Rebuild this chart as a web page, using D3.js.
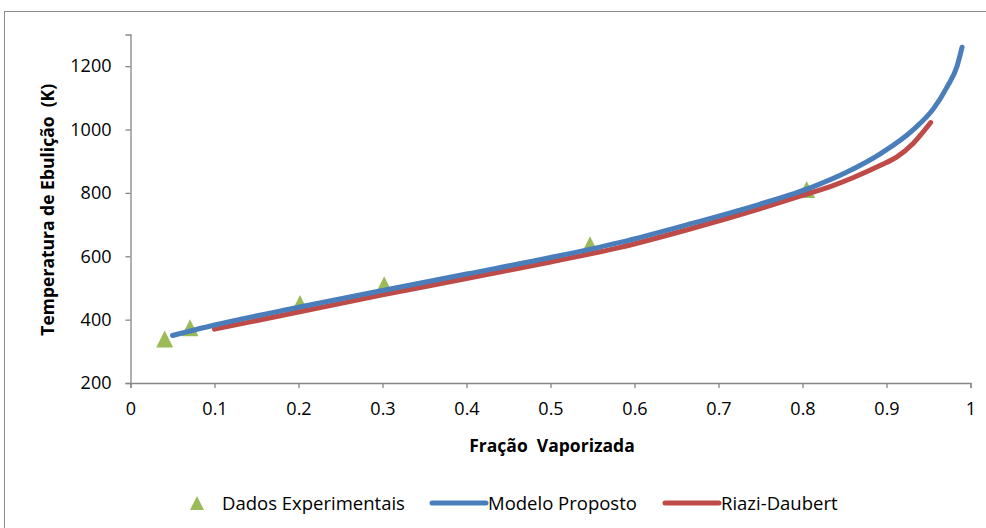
<!DOCTYPE html>
<html>
<head>
<meta charset="utf-8">
<script src="https://cdn.jsdelivr.net/npm/d3@7"></script>
<style>
  html, body { margin: 0; padding: 0; background: #fff; }
  svg { display: block; font-family: "Open Sans", "Liberation Sans", sans-serif; }
  text { white-space: pre; }
</style>
</head>
<body>
<svg id="chart" width="986" height="528"></svg>
<script>
// Experimental boiling temperatures (K) against vaporized fraction
const expFraction = [0.0407, 0.0708, 0.2018, 0.302, 0.547, 0.805];
const expTemp     = [339, 374, 451, 510, 636, 811];

// Proposed model curve
const modelFraction = [0.05, 0.10, 0.20, 0.30, 0.40, 0.50, 0.583, 0.666, 0.749, 0.813, 0.853, 0.8935, 0.932, 0.956, 0.972, 0.984, 0.99];
const modelTemp     = [350, 383, 439, 492, 544, 596, 644, 702, 764, 820, 866, 925, 1000, 1066, 1134, 1200, 1260];

// Riazi-Daubert correlation curve
const rdFraction = [0.10, 0.20, 0.30, 0.40, 0.50, 0.583, 0.666, 0.749, 0.797, 0.833, 0.86, 0.8935, 0.912, 0.932, 0.9526];
const rdTemp     = [370, 424, 478, 530, 582, 628, 686, 750, 790, 820, 848, 888, 913, 957, 1022];

const xTicks = [0, 0.1, 0.2, 0.3, 0.4, 0.5, 0.6, 0.7, 0.8, 0.9, 1];
const yTicks = [200, 400, 600, 800, 1000, 1200];

const seriesNames = ["Dados Experimentais", "Modelo Proposto", "Riazi-Daubert"];
const colors = { exp: "#9BBB59", model: "#4A7EBB", rd: "#BE4B48" };

const svg = d3.select("#chart");
const axisColor = "#868686";

// outer chart frame
svg.append("rect")
  .attr("x", 4.5).attr("y", 11.5)
  .attr("width", 1000).attr("height", 540)
  .attr("fill", "none").attr("stroke", "#8c8c8c").attr("stroke-width", 1);

const x = d3.scaleLinear().domain([0, 1]).range([130.5, 970.5]);
const y = d3.scaleLinear().domain([200, 1300]).range([383, 34.5]);

// x axis
const gx = svg.append("g").attr("transform", `translate(0,${y(200)})`)
  .call(d3.axisBottom(x).tickValues(xTicks).tickSize(5).tickPadding(14)
        .tickFormat(d => d === 0 || d === 1 ? d3.format("d")(d) : d3.format(".1f")(d)));
// y axis
const gy = svg.append("g").attr("transform", `translate(${x(0)},0)`)
  .call(d3.axisLeft(y).tickValues(yTicks).tickSize(5).tickPadding(14).tickFormat(d3.format("d")));

[gx, gy].forEach(g => {
  g.select(".domain").attr("stroke", axisColor).attr("stroke-width", 1.3);
  g.selectAll(".tick line").attr("stroke", axisColor).attr("stroke-width", 1.3);
  g.selectAll(".tick text").attr("fill", "#000").attr("font-size", 18)
    .attr("font-family", "'Open Sans', 'Liberation Sans', sans-serif");
});

// axis titles
svg.append("text")
  .attr("x", 552).attr("y", 452)
  .attr("text-anchor", "middle").attr("font-weight", "bold").attr("font-size", 17.5)
  .text("Fração  Vaporizada");
svg.append("text")
  .attr("transform", `translate(54,${(y(200) + y(1300)) / 2 + 1}) rotate(-90)`)
  .attr("text-anchor", "middle").attr("font-weight", "bold").attr("font-size", 17.5)
  .text("Temperatura de Ebulição  (K)");

// triangle marker: 17 px wide and tall, centred on its bounding box
const triangle = {
  draw(ctx, size) {
    const h = Math.sqrt(size);
    ctx.moveTo(0, -h / 2);
    ctx.lineTo(h / 2, h / 2);
    ctx.lineTo(-h / 2, h / 2);
    ctx.closePath();
  }
};
const marker = d3.symbol().type(triangle).size(17 * 17);

svg.append("g").selectAll("path")
  .data(d3.zip(expFraction, expTemp))
  .join("path")
  .attr("d", marker)
  .attr("transform", d => `translate(${x(d[0])},${y(d[1])})`)
  .attr("fill", colors.exp);

const line = d3.line().x(d => x(d[0])).y(d => y(d[1])).curve(d3.curveMonotoneX);

svg.append("path")
  .datum(d3.zip(rdFraction, rdTemp))
  .attr("d", line).attr("fill", "none")
  .attr("stroke", colors.rd).attr("stroke-width", 5).attr("stroke-linecap", "round");

svg.append("path")
  .datum(d3.zip(modelFraction, modelTemp))
  .attr("d", line).attr("fill", "none")
  .attr("stroke", colors.model).attr("stroke-width", 5).attr("stroke-linecap", "round");

// legend
const lg = svg.append("g").attr("font-size", 18.5);
lg.append("path").attr("d", d3.symbol().type(triangle).size(14 * 14))
  .attr("transform", "translate(197,503)").attr("fill", colors.exp);
lg.append("text").attr("x", 222).attr("y", 510).text(seriesNames[0]);
lg.append("line").attr("x1", 432).attr("x2", 486).attr("y1", 503).attr("y2", 503)
  .attr("stroke", colors.model).attr("stroke-width", 5).attr("stroke-linecap", "round");
lg.append("text").attr("x", 488).attr("y", 510).text(seriesNames[1]);
lg.append("line").attr("x1", 665).attr("x2", 719).attr("y1", 503).attr("y2", 503)
  .attr("stroke", colors.rd).attr("stroke-width", 5).attr("stroke-linecap", "round");
lg.append("text").attr("x", 721).attr("y", 510).text(seriesNames[2]);
</script>
</body>
</html>
